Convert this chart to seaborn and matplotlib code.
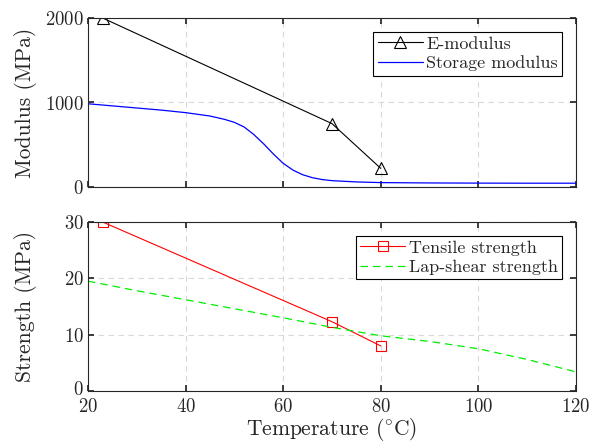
import matplotlib
matplotlib.use("Agg")
import matplotlib.pyplot as plt
import matplotlib.transforms as mtransforms
import seaborn as sns
import pandas as pd

# Measured data
e_temp = [23, 70, 80]
e_modulus = [2000, 750, 220]

storage_temp = [20, 25, 30, 35, 40, 45, 48, 50, 52, 54, 56, 58, 60, 62, 64, 66, 68, 70, 75, 80, 90, 100, 110, 120]
storage_modulus = [985, 960, 935, 910, 880, 840, 800, 765, 710, 620, 510, 390, 280, 200, 145, 110, 88, 75, 60, 52, 48, 46, 45, 45]

tensile_temp = [23, 70, 80]
tensile_strength = [30, 12.3, 8.0]

lap_temp = [20, 30, 40, 50, 60, 70, 80, 90, 100, 110, 120]
lap_strength = [19.5, 17.8, 16.2, 14.6, 13.0, 11.3, 9.8, 8.8, 7.5, 5.6, 3.4]

sns.set_theme(style="white")
plt.rcParams.update({
    "font.family": "serif",
    "font.serif": ["cmr10", "DejaVu Serif"],
    "mathtext.fontset": "cm",
    "axes.formatter.use_mathtext": True,
    "axes.unicode_minus": False,
    "axes.edgecolor": "#262626",
    "axes.linewidth": 0.8,
    "xtick.direction": "in",
    "ytick.direction": "in",
    "xtick.top": True,
    "ytick.right": True,
    "xtick.bottom": True,
    "ytick.left": True,
    "xtick.major.size": 4,
    "ytick.major.size": 4,
    "xtick.color": "#262626",
    "ytick.color": "#262626",
})

fig = plt.figure(figsize=(6.0, 4.45), dpi=100)
ax1 = fig.add_axes([88 / 600, 1 - 187 / 445, (576 - 88) / 600, (187 - 18) / 445])
ax2 = fig.add_axes([88 / 600, 1 - 391 / 445, (576 - 88) / 600, (391 - 222) / 445])

df_e = pd.DataFrame({"T": e_temp, "v": e_modulus})
df_s = pd.DataFrame({"T": storage_temp, "v": storage_modulus})
df_t = pd.DataFrame({"T": tensile_temp, "v": tensile_strength})
df_l = pd.DataFrame({"T": lap_temp, "v": lap_strength})

sns.lineplot(data=df_e, x="T", y="v", ax=ax1, color="black", lw=0.8,
             marker="^", markersize=8, markerfacecolor="none",
             markeredgecolor="black", markeredgewidth=0.8, label="E-modulus")
sns.lineplot(data=df_s, x="T", y="v", ax=ax1, color="blue", lw=0.9,
             label="Storage modulus")

sns.lineplot(data=df_t, x="T", y="v", ax=ax2, color="red", lw=0.8,
             marker="s", markersize=6.5, markerfacecolor="none",
             markeredgecolor="red", markeredgewidth=0.8, label="Tensile strength")
sns.lineplot(data=df_l, x="T", y="v", ax=ax2, color="#00ee00", lw=0.9,
             label="Lap-shear strength")
ax2.lines[-1].set_dashes((6, 4))

for ax in (ax1, ax2):
    ax.set_xlim(20, 120)
    ax.set_xticks([20, 40, 60, 80, 100, 120])
    ax.grid(True, color="#d9d9d9", linestyle=(0, (5, 4)), linewidth=0.8)
    ax.set_axisbelow(True)
    ax.tick_params(labelsize=13.5, pad=3)
    ax.tick_params(axis="x", pad=5)
    for s in ax.spines.values():
        s.set_visible(True)
    leg = ax.legend(loc="upper right", fontsize=13, frameon=True, fancybox=False,
                    edgecolor="black", framealpha=1, handlelength=2.5,
                    borderpad=0.25, labelspacing=0.2, handletextpad=0.2,
                    borderaxespad=0.75)
    leg.get_frame().set_linewidth(0.8)

ax2.get_legend().get_lines()[-1].set_dashes((6, 4))

ax1.set_ylim(0, 2000)
ax1.set_yticks([0, 1000, 2000])
ax1.set_xticklabels([])
ax1.set_xlabel("")
ax1.set_ylabel("Modulus (MPa)", fontsize=15.5)

ax2.set_ylim(0, 30)
ax2.set_yticks([0, 10, 20, 30])
ax2.set_xlabel(r"Temperature ($^{\circ}$C)", fontsize=15.5, labelpad=0)
ax2.set_ylabel("Strength (MPa)", fontsize=15.5)

ax1.yaxis.set_label_coords(-0.104, 0.5)
ax2.yaxis.set_label_coords(-0.104, 0.5)

# lift the bottom "0" label a little so it clears the "20" below it
fig.canvas.draw()
lift = mtransforms.ScaledTranslation(0, 3 / 100, fig.dpi_scale_trans)
zero_label = ax2.get_yticklabels()[0]
zero_label.set_transform(zero_label.get_transform() + lift)

fig.savefig("out.png", dpi=100)
